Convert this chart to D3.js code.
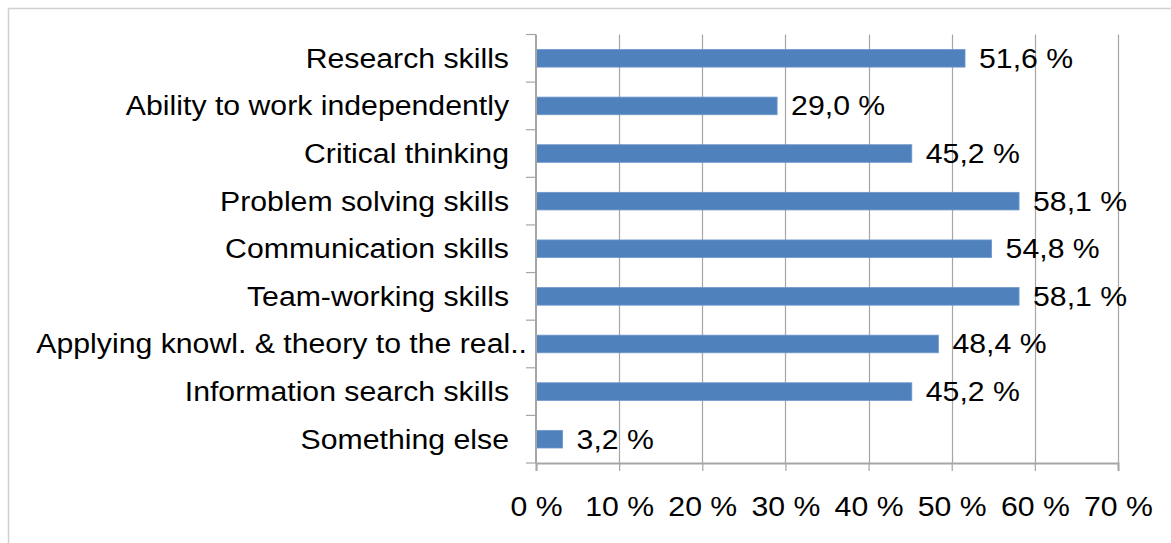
<!DOCTYPE html>
<html>
<head>
<meta charset="utf-8">
<script src="https://cdn.jsdelivr.net/npm/d3@7"></script>
<style>
  html, body { margin: 0; padding: 0; background: #fff; }
  svg { display: block; }
  text { font-family: "Liberation Sans", Arial, sans-serif; fill: #000; }
</style>
</head>
<body>
<svg id="chart" width="1171" height="543"></svg>
<script>
// Skills named by respondents (share of respondents, %)
const categories = [
  "Research skills",
  "Ability to work independently",
  "Critical thinking",
  "Problem solving skills",
  "Communication skills",
  "Team-working skills",
  "Applying knowl. & theory to the real..",
  "Information search skills",
  "Something else"
];
const values = [51.6, 29.0, 45.2, 58.1, 54.8, 58.1, 48.4, 45.2, 3.2];
const tickValues = [0, 10, 20, 30, 40, 50, 60, 70];

const W = 1171, H = 543;
const margin = { top: 34.5, right: 53, bottom: 80, left: 536 };
const fontSize = 27;
const stretch = "scale(1.12,1)";   // wide-set glyphs
const gridColor = "#a6a6a6";
const barColor = "#4f81bd";

const svg = d3.select("#chart");

// light frame around the chart area
svg.append("path")
  .attr("d", `M8.5,${H} V8.5 H${W}`)
  .attr("fill", "none")
  .attr("stroke", "#d0d0d0")
  .attr("stroke-width", 1.5);

const x = d3.scaleLinear().domain([0, 70]).range([margin.left, W - margin.right]);
const y = d3.scaleBand().domain(categories).range([margin.top, H - margin.bottom]).paddingInner(0.63).paddingOuter(0.315);
const band = d3.scaleBand().domain(categories).range([margin.top, H - margin.bottom]);

const fmt = v => v.toFixed(1).replace(".", ",") + " %";

// vertical gridlines
svg.append("g")
  .selectAll("line")
  .data(tickValues.slice(1))
  .join("line")
  .attr("x1", d => Math.round(x(d)) + 0.5)
  .attr("x2", d => Math.round(x(d)) + 0.5)
  .attr("y1", margin.top)
  .attr("y2", H - margin.bottom)
  .attr("stroke", gridColor)
  .attr("stroke-width", 1.2);

// bars
svg.append("g")
  .selectAll("rect")
  .data(values)
  .join("rect")
  .attr("x", x(0))
  .attr("y", (d, i) => y(categories[i]))
  .attr("width", d => x(d) - x(0))
  .attr("height", y.bandwidth())
  .attr("fill", barColor)
  .attr("stroke", "#6f97cc")
  .attr("stroke-width", 0.8);

// value labels
svg.append("g")
  .selectAll("g")
  .data(values)
  .join("g")
  .attr("transform", (d, i) => `translate(${x(d) + 14},${band(categories[i]) + band.bandwidth() / 2}) ${stretch}`)
  .append("text")
  .attr("dy", "0.35em")
  .attr("font-size", fontSize)
  .text(fmt);

// x axis
const xAxis = svg.append("g")
  .attr("transform", `translate(0,${H - margin.bottom})`)
  .call(d3.axisBottom(x).tickValues(tickValues).tickSize(8).tickPadding(26).tickFormat(d => d + " %"));
xAxis.select(".domain").attr("stroke", gridColor).attr("stroke-width", 2);
xAxis.selectAll(".tick line").attr("stroke", gridColor).attr("stroke-width", 1.2);
xAxis.selectAll(".tick text")
  .attr("font-size", fontSize)
  .attr("transform", stretch)
  .attr("font-family", "Liberation Sans, Arial, sans-serif")
  .attr("fill", "#000")
  .attr("dy", "0.71em");

// y axis: ticks between categories, labels right-aligned
const yAxis = svg.append("g").attr("transform", `translate(${margin.left},0)`);
yAxis.append("line")
  .attr("x1", 0).attr("x2", 0)
  .attr("y1", margin.top).attr("y2", H - margin.bottom)
  .attr("stroke", gridColor).attr("stroke-width", 2);
yAxis.selectAll("line.tk")
  .data(d3.range(categories.length + 1))
  .join("line")
  .attr("class", "tk")
  .attr("x1", -10).attr("x2", 0)
  .attr("y1", i => margin.top + i * band.step())
  .attr("y2", i => margin.top + i * band.step())
  .attr("stroke", gridColor).attr("stroke-width", 1.2);
yAxis.selectAll("g.lbl")
  .data(categories)
  .join("g")
  .attr("class", "lbl")
  .attr("transform", d => `translate(${d.endsWith("..") ? -9 : -27},${band(d) + band.bandwidth() / 2}) ${stretch}`)
  .append("text")
  .attr("dy", "0.35em")
  .attr("text-anchor", "end")
  .attr("font-size", fontSize)
  .text(d => d);
</script>
</body>
</html>
